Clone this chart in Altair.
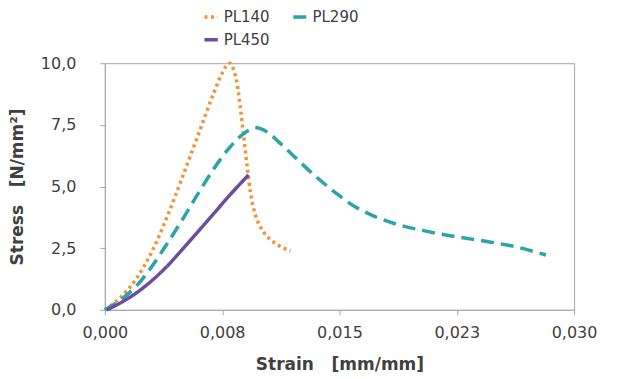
import altair as alt
import pandas as pd

# PL140 (orange dotted)
pl140_x = [0.0, 0.001, 0.002, 0.003, 0.004, 0.005, 0.006, 0.007, 0.0075, 0.00798,
           0.0082, 0.0085, 0.0087, 0.0089, 0.0091, 0.0093, 0.0096, 0.0100, 0.0105,
           0.0112, 0.01187]
pl140_y = [0.0, 0.5, 1.25, 2.35, 3.8, 5.45, 7.15, 8.85, 9.6, 10.0,
           9.8, 9.0, 8.0, 6.9, 5.8, 4.8, 3.9, 3.3, 2.9,
           2.58, 2.39]
# PL290 (teal dashed)
pl290_x = [0.0, 0.001, 0.002, 0.003, 0.004, 0.005, 0.006, 0.007, 0.008, 0.0088, 0.0097,
           0.0104, 0.0112, 0.012, 0.0135, 0.0148, 0.016, 0.0172, 0.0185, 0.0203,
           0.0225, 0.0246, 0.0263, 0.0282]
pl290_y = [0.0, 0.4, 0.95, 1.75, 2.7, 3.7, 4.75, 5.75, 6.6, 7.1, 7.38,
           7.2, 6.76, 6.28, 5.4, 4.72, 4.18, 3.8, 3.5, 3.22,
           2.96, 2.75, 2.55, 2.22]
# PL450 (purple solid)
pl450_x = [0.00013, 0.001, 0.002, 0.003, 0.004, 0.005, 0.006, 0.007, 0.008, 0.00919]
pl450_y = [0.0, 0.28, 0.68, 1.18, 1.78, 2.48, 3.2, 3.93, 4.66, 5.47]

# legend is laid out column by column: order chosen so rows read PL140, PL290 / PL450
series = ["PL140", "PL450", "PL290"]
colors = ["#F5903A", "#6A4E9C", "#2BA3A8"]
dashes = [[3, 3.5], [1, 0], [13, 7]]

x_tick_values = [0.0, 0.0075, 0.015, 0.0225, 0.03]
x_tick_labels = ["0,000", "0,008", "0,015", "0,023", "0,030"]
y_tick_values = [0.0, 2.5, 5.0, 7.5, 10.0]

rows = []
for name, xs, ys in [("PL140", pl140_x, pl140_y), ("PL290", pl290_x, pl290_y), ("PL450", pl450_x, pl450_y)]:
    for i, (a, b) in enumerate(zip(xs, ys)):
        rows.append({"series": name, "strain": a, "stress": b, "order": i})
df = pd.DataFrame(rows)

label_list = "[" + ",".join("'%s'" % s for s in x_tick_labels) + "]"
x_label_expr = label_list + "[round(datum.value / 0.0075)]"

FONT = "DejaVu Sans"
NB = "\u00a0"

chart = alt.Chart(df).mark_line(strokeWidth=3.5, interpolate="monotone").encode(
    x=alt.X("strain:Q", title="Strain" + NB * 3 + "[mm/mm]",
            scale=alt.Scale(domain=[0, 0.03], nice=False),
            axis=alt.Axis(values=x_tick_values, labelExpr=x_label_expr, grid=False,
                          labelFlush=False, tickSize=5, labelPadding=10, titlePadding=16)),
    y=alt.Y("stress:Q", title="Stress" + NB * 3 + "[N/mm²]",
            scale=alt.Scale(domain=[0, 10], nice=False),
            axis=alt.Axis(values=y_tick_values,
                          labelExpr="replace(format(datum.value, '.1f'), '.', ',')",
                          grid=False, labelFlush=False, tickSize=5, labelPadding=24,
                          titlePadding=14)),
    color=alt.Color("series:N", scale=alt.Scale(domain=series, range=colors),
                    legend=alt.Legend(title=None, orient="none", legendX=98, legendY=-55,
                                      columns=2, symbolType="stroke", symbolStrokeWidth=3.5,
                                      symbolSize=180, labelFontSize=15, labelFont=FONT,
                                      labelColor="#404040", columnPadding=15, rowPadding=6)),
    strokeDash=alt.StrokeDash("series:N", scale=alt.Scale(domain=series, range=dashes), legend=None),
    order="order:Q",
).properties(
    width=470, height=247,
    autosize=alt.AutoSizeParams(type="none"),
    padding={"left": 97, "top": 55, "right": 40, "bottom": 68},
).configure_view(
    stroke="#a6a6a6", strokeWidth=1
).configure_axis(
    labelFont=FONT, labelFontSize=16, labelColor="#404040",
    titleFont=FONT, titleFontSize=17, titleColor="#404040", titleFontWeight="bold",
    domainColor="#a6a6a6", tickColor="#a6a6a6",
)

chart.save("out.html", embed_options={"renderer": "svg", "actions": False})
